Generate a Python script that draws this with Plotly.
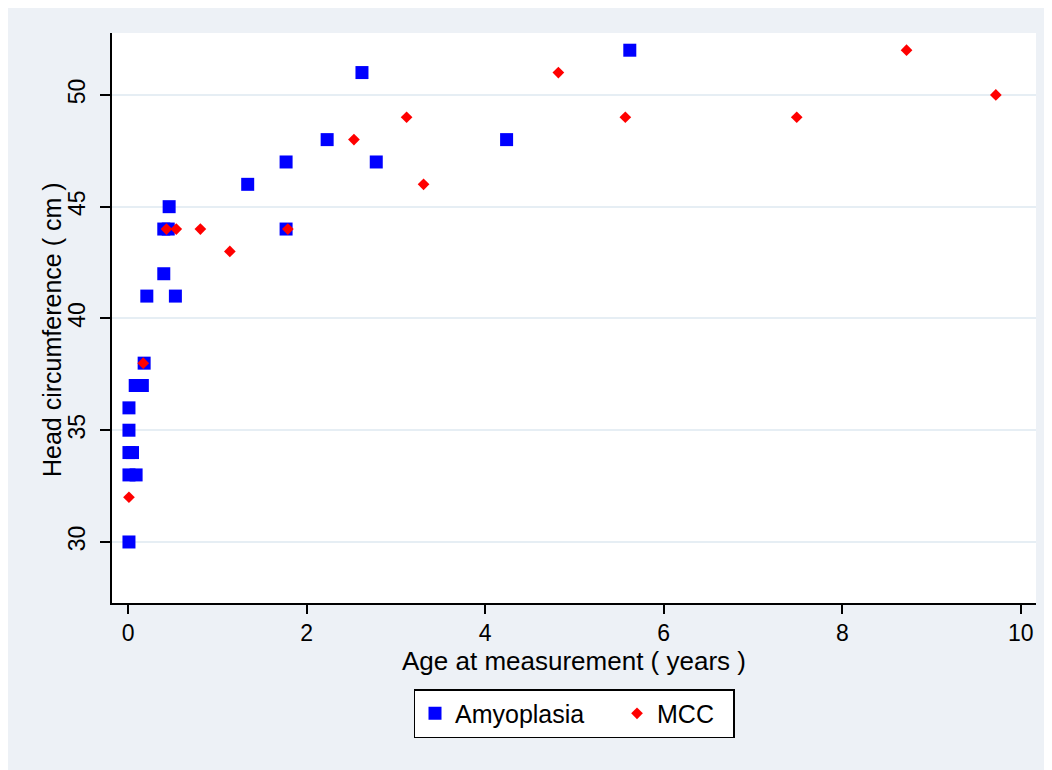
import plotly.graph_objects as go

# Amyoplasia (blue squares)
amy_age = [0.01, 0.01, 0.09, 0.01, 0.05, 0.01, 0.01, 0.08, 0.16, 0.18, 0.21, 0.53, 0.40,
           0.40, 0.45, 0.46, 1.34, 1.77, 1.77, 2.23, 2.62, 2.78, 4.24, 5.62]
amy_hc = [30, 33, 33, 34, 34, 35, 36, 37, 37, 38, 41, 41, 42,
          44, 44, 45, 46, 47, 44, 48, 51, 47, 48, 52]

# MCC (red diamonds)
mcc_age = [0.01, 0.17, 0.43, 0.54, 0.81, 1.14, 1.79, 2.53, 3.12, 3.31, 4.82, 5.57, 7.49, 8.72, 9.72]
mcc_hc = [32, 38, 44, 44, 44, 43, 44, 48, 49, 46, 51, 49, 49, 52, 50]

x_ticks = [0, 2, 4, 6, 8, 10]
y_ticks = [30, 35, 40, 45, 50]

FONT = "Liberation Sans, Arial, sans-serif"
BG = "#EDF1F6"
NB = "\u00a0"

fig = go.Figure()
fig.add_trace(go.Scatter(
    x=amy_age, y=amy_hc, mode="markers", name="Amyoplasia" + NB * 4,
    marker=dict(symbol="square", size=13, color="#0000FF", line=dict(width=0)),
))
fig.add_trace(go.Scatter(
    x=mcc_age, y=mcc_hc, mode="markers", name="MCC" + NB * 2,
    marker=dict(symbol="diamond", size=9, color="#FF0000", line=dict(width=0)),
))

fig.update_layout(
    width=1044, height=762,
    margin=dict(l=104, r=16, t=25, b=167, autoexpand=False),
    paper_bgcolor=BG, plot_bgcolor="white",
    font=dict(family=FONT, color="#000000"),
    showlegend=True,
    legend=dict(
        orientation="h", x=0.5, xanchor="center", y=-0.151, yanchor="top",
        bgcolor="white", bordercolor="#000000", borderwidth=1.5,
        font=dict(size=25, family=FONT), itemwidth=30, tracegroupgap=0,
    ),
    xaxis=dict(
        range=[-0.18, 10.17], tickvals=x_ticks, ticktext=[str(v) for v in x_ticks],
        showgrid=False, zeroline=False, showline=True, linecolor="#000000", linewidth=1.5,
        ticks="outside", ticklen=9, tickwidth=1.5, tickcolor="#000000",
        tickfont=dict(size=23, family=FONT),
        title=dict(text="Age at measurement ( years )", font=dict(size=26, family=FONT), standoff=3),
    ),
    yaxis=dict(
        range=[27.27, 52.77], tickvals=y_ticks, ticktext=[str(v) for v in y_ticks],
        showgrid=True, gridcolor="#E6EEF4", gridwidth=1.5,
        zeroline=False, showline=True, linecolor="#000000", linewidth=1.5,
        ticks="outside", ticklen=10, tickwidth=1.5, tickcolor="#000000",
        tickangle=-90, tickfont=dict(size=23, family=FONT), ticklabelstandoff=6,
    ),
    annotations=[
        dict(text="Head circumference ( cm )", xref="paper", yref="paper",
             x=-0.0649, y=0.479, xanchor="center", yanchor="middle", textangle=-90,
             showarrow=False, font=dict(size=25, family=FONT)),
    ],
)

fig.write_html("out.html")
